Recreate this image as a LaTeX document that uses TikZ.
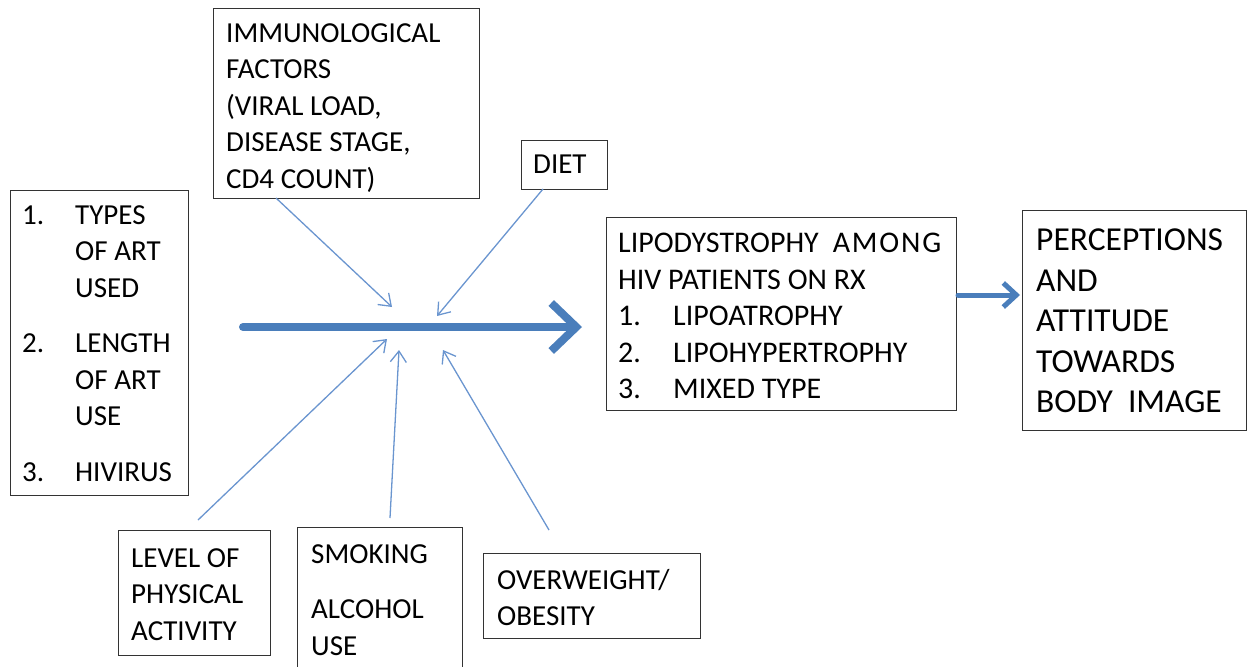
\documentclass[tikz,border=0pt]{standalone}
\usepackage{fontspec}
\setmainfont{Carlito}
\usetikzlibrary{arrows.meta}
\definecolor{arrowblue}{HTML}{4A7EBB}
\definecolor{thinblue}{HTML}{6A95CF}
\tikzset{
  box/.style={draw=black!80, line width=1.2pt, anchor=north west, inner sep=0pt, minimum width=#1},
  txt/.style={anchor=north west, inner sep=0pt, align=left, font=\fontsize{29}{36.5}\selectfont},
  lipotxt/.style={anchor=north west, inner sep=0pt, align=left, font=\fontsize{30}{36.5}\selectfont},
  bigtxt/.style={anchor=north west, inner sep=0pt, align=left, font=\fontsize{33.5}{40.5}\selectfont},
  thin/.style={draw=thinblue, line width=1.3pt, -{Straight Barb[length=11pt,width=16pt]}},
  thick/.style={draw=arrowblue, line width=8pt, line cap=round, line join=round, -{Straight Barb[length=25pt,width=48pt]}},
  medium/.style={draw=arrowblue, line width=5pt, line cap=round, line join=round, -{Straight Barb[length=13pt,width=24pt]}},
}
\begin{document}
\begin{tikzpicture}[x=1pt,y=-1pt]
\useasboundingbox (0,0) rectangle (1254,667);
% boxes
\node[box=178pt, minimum height=305pt] (art) at (10,190) {};
\node[box=266pt, minimum height=190pt] (imm) at (213,8) {};
\node[box=86pt, minimum height=49pt] (diet) at (521,140) {};
\node[box=350pt, minimum height=193pt] (lipo) at (606,217) {};
\node[box=224pt, minimum height=220pt] (perc) at (1022,210) {};
\node[box=152pt, minimum height=125pt] (lvl) at (118,530) {};
\begin{scope}
\clip (0,0) rectangle (1254,667);
\node[box=165pt, minimum height=160pt] (smk) at (297,527) {};
\end{scope}
\node[box=217pt, minimum height=85pt] (obe) at (483,553) {};
% texts
\node[txt] (artt) at (22,205) {\makebox[53pt][l]{1.}TYPES\\\hspace*{53pt}OF ART\\\hspace*{53pt}USED\\[19pt]
\makebox[53pt][l]{2.}LENGTH\\\hspace*{53pt}OF ART\\\hspace*{53pt}USE\\[19pt]
\makebox[53pt][l]{3.}HIVIRUS};
\node[txt] (immt) at (226,23) {IMMUNOLOGICAL\\FACTORS\\(VIRAL LOAD,\\DISEASE STAGE,\\CD4 COUNT)};
\node[txt] (dietl) at (533,155) {DIET};
\node[lipotxt] (lipot) at (618,233) {\makebox[323pt][s]{LIPODYSTROPHY\hfill {\addfontfeature{LetterSpace=6}AMONG}}\\HIV PATIENTS ON RX\\
\makebox[55pt][l]{1.}LIPOATROPHY\\\makebox[55pt][l]{2.}LIPOHYPERTROPHY\\\makebox[55pt][l]{3.}MIXED TYPE};
\node[bigtxt] (perct) at (1036,229) {PERCEPTIONS\\AND\\ATTITUDE\\TOWARDS\\BODY\ \ IMAGE};
\node[txt] (lvlt) at (131,548) {LEVEL OF\\PHYSICAL\\ACTIVITY};
\node[txt] (smkt) at (311,544) {SMOKING\\[19pt]ALCOHOL\\USE};
\node[txt] (obet) at (497,569) {OVERWEIGHT/\\OBESITY};
% coordinates
\coordinate (mainS) at (243,327);
\coordinate (mainE) at (582,327);
\coordinate (tImm) at (392,307);
\coordinate (tDiet) at (437,316);
\coordinate (tLvl) at (387,339);
\coordinate (tSmk) at (399,350);
\coordinate (tObe) at (443,350);
\coordinate (sImm) at (276,198);
\coordinate (sDiet) at (543,189);
\coordinate (sLvl) at (198,520);
\coordinate (sSmk) at (390,518);
\coordinate (sObe) at (549,530);
\coordinate (rS) at (958,295);
\coordinate (rE) at (1020,295);
% arrows
\draw[thick] (mainS) -- (mainE);
\draw[medium] (rS) -- (rE);
\draw[thin] (sImm) -- (tImm);
\draw[thin] (sDiet) -- (tDiet);
\draw[thin] (sLvl) -- (tLvl);
\draw[thin] (sSmk) -- (tSmk);
\draw[thin] (sObe) -- (tObe);
\end{tikzpicture}
\end{document}
